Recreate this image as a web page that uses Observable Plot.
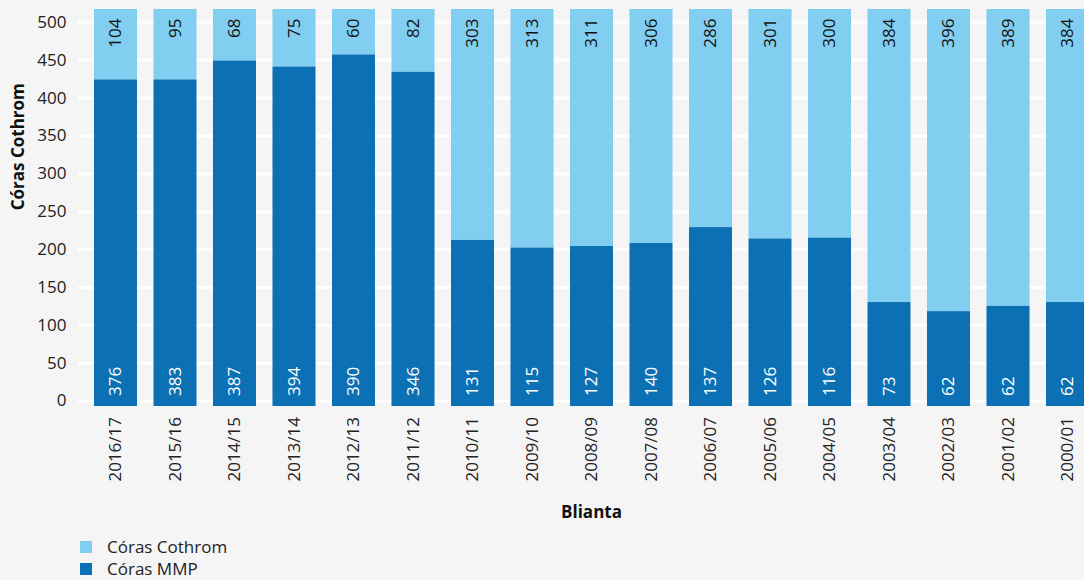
<!DOCTYPE html>
<html><head><meta charset="utf-8">
<script src="https://cdn.jsdelivr.net/npm/d3@7"></script>
<script src="https://cdn.jsdelivr.net/npm/@observablehq/plot@0.6"></script>
<style>
html,body{margin:0;padding:0;background:#f5f5f5;overflow:hidden;width:1084px;height:580px;}
body{font-family:"Open Sans",sans-serif;color:#222;}
#legend{margin-left:80px;margin-top:6px;}
.item{display:flex;align-items:center;height:22px;font-size:17px;line-height:22px;}
.sw{width:12px;height:12px;margin-right:15px;flex:none;}
</style></head><body><div id="chart"></div><div id="legend"></div>
<script>
const years = ["2016/17","2015/16","2014/15","2013/14","2012/13","2011/12","2010/11","2009/10","2008/09","2007/08","2006/07","2005/06","2004/05","2003/04","2002/03","2001/02","2000/01"];
const mmpLabels = [376,383,387,394,390,346,131,115,127,140,137,126,116,73,62,62,62];
const cothromLabels = [104,95,68,75,60,82,303,313,311,306,286,301,300,384,396,389,384];
const mmpBarHeight = [424,424,449,441,457,434,212,202,204,208,229,214,215,130,118,125,130];
const yTop = 517;
const yTicks = [0,50,100,150,200,250,300,350,400,450,500];
const seriesNames = ["Córas Cothrom","Córas MMP"];
const seriesColors = ["#81cef0","#0b71b4"];
const yLabel = "Córas Cothrom";
const xLabel = "Blianta";

const data = years.map((y,i)=>({year:y, mmp:mmpLabels[i], cothrom:cothromLabels[i], h:mmpBarHeight[i], top:yTop}));

const chart = Plot.plot({
  width:1084, height:530,
  marginLeft:78, marginRight:0, marginTop:9, marginBottom:129.5,
  style:{background:"#f5f5f5", fontFamily:"'Open Sans', sans-serif", fontSize:"17px", color:"#222"},
  x:{domain:years, range:[77.5,1105.5], padding:0.277, round:false},
  y:{domain:[0,yTop]},
  marks:[
    Plot.gridY(yTicks, {stroke:"white", strokeOpacity:1, strokeWidth:3}),
    Plot.barY(data, {x:"year", y1:"h", y2:"top", fill:seriesColors[0]}),
    Plot.barY(data, {x:"year", y1:0, y2:"h", fill:seriesColors[1], insetBottom:-5.5}),
    Plot.text(data, {x:"year", y:"top", text:"cothrom", rotate:-90, textAnchor:"end", dy:9, fontSize:17, fill:"#111"}),
    Plot.text(data, {x:"year", y:0, text:"mmp", rotate:-90, textAnchor:"start", dy:-5, fontSize:17, fill:"white"}),
    Plot.axisY(yTicks, {tickSize:0, tickPadding:12, fontSize:17, label:null}),
    Plot.axisX({tickRotate:-90, tickSize:0, tickPadding:16, fontSize:17, label:null}),
    Plot.text([yLabel], {frameAnchor:"left", rotate:-90, dx:-60, dy:5, fontWeight:"bold", fontSize:17, fill:"#111"}),
    Plot.text([xLabel], {frameAnchor:"bottom", dx:10, dy:116.5, fontWeight:"bold", fontSize:17, fill:"#111"})
  ]
});
document.getElementById("chart").appendChild(chart);

const legend = document.getElementById("legend");
seriesNames.forEach((n,i)=>{
  const row = document.createElement("div"); row.className="item";
  const sw = document.createElement("span"); sw.className="sw"; sw.style.background=seriesColors[i];
  const t = document.createElement("span"); t.textContent=n;
  row.appendChild(sw); row.appendChild(t); legend.appendChild(row);
});
</script></body></html>
